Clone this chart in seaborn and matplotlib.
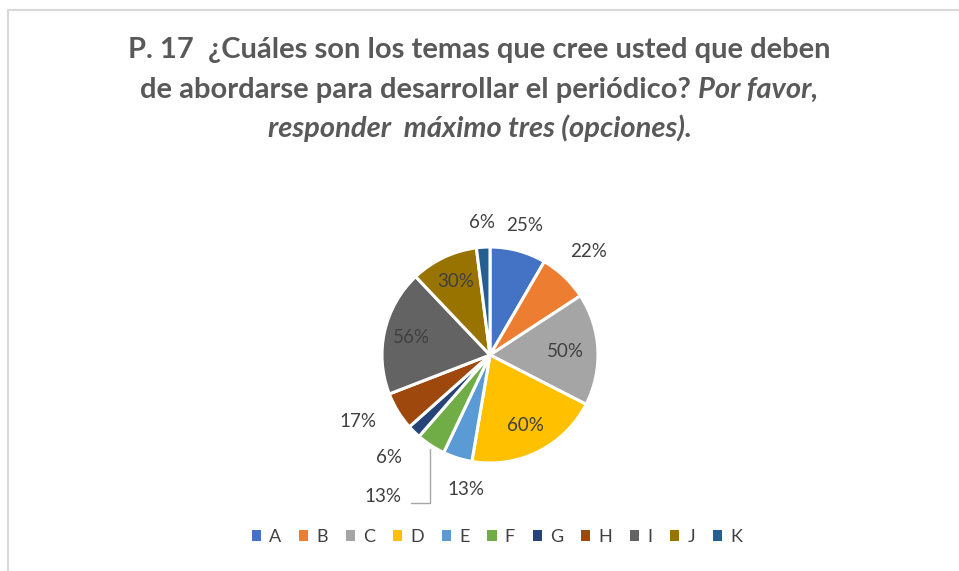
import matplotlib
matplotlib.use("Agg")
import matplotlib.pyplot as plt
import seaborn as sns
import numpy as np
from matplotlib.lines import Line2D
from matplotlib.patches import Patch

categories = ["A", "B", "C", "D", "E", "F", "G", "H", "I", "J", "K"]
values = [25, 22, 50, 60, 13, 13, 6, 17, 56, 30, 6]
labels = ["25%", "22%", "50%", "60%", "13%", "13%", "6%", "17%", "56%", "30%", "6%"]
colors = ["#4472C4", "#ED7D31", "#A5A5A5", "#FFC000", "#5B9BD5", "#70AD47",
          "#264478", "#9E480E", "#636363", "#997300", "#255E91"]
# radial distance / angular nudge of each label
label_r = [1.24, 1.32, 0.70, 0.73, 1.26, None, 1.33, 1.37, 0.75, 0.75, 1.23]
label_dang = [0, 0, 0, 0, 7.5, 0, 0, -4.5, 0, 0, 0]

sns.set_theme(style="white")
palette = sns.color_palette(colors)
plt.rcParams["font.family"] = ["Lato", "DejaVu Sans"]

W, H = 959, 571
fig = plt.figure(figsize=(W / 100, H / 100), dpi=100)
fig.patch.set_facecolor("white")

# frame lines
fig.add_artist(Line2D([8 / W, 1], [1 - 10 / H, 1 - 10 / H], color="#D9D9D9", lw=1.5, transform=fig.transFigure))
fig.add_artist(Line2D([8 / W, 8 / W], [0, 1 - 10 / H], color="#D9D9D9", lw=1.5, transform=fig.transFigure))

cx, cy, R = 490, 355, 108
ax = fig.add_axes([(cx - R) / W, (H - cy - R) / H, 2 * R / W, 2 * R / H])
wedges, _ = ax.pie(values, colors=palette, startangle=90, counterclock=False, radius=1,
                   wedgeprops=dict(edgecolor="white", linewidth=2.2))
ax.set_xlim(-1, 1)
ax.set_ylim(-1, 1)
ax.set_aspect("equal")
ax.axis("off")

total = sum(values)
cum = 0
txtcol = "#404040"
lsize = 13.5
for i, v in enumerate(values):
    mid = cum + v / 2
    cum += v
    ang = np.deg2rad(90 - mid / total * 360 + label_dang[i])
    if label_r[i] is None:
        continue
    r = label_r[i]
    ax.text(r * np.cos(ang), r * np.sin(ang), labels[i], ha="center", va="center",
            fontsize=lsize, color=txtcol, clip_on=False)

# leader label for F
ax.plot([-0.56, -0.56, -0.73], [-0.87, -1.37, -1.37], color="#A6A6A6", lw=1, clip_on=False)
ax.text(-0.99, -1.31, labels[5], ha="center", va="center", fontsize=lsize, color=txtcol, clip_on=False)

# title
tcol = "#595959"
tsize = 21
fig.text(0.5, 1 - 50 / H, "P. 17  ¿Cuáles son los temas que cree usted que deben",
         ha="center", va="center", fontsize=tsize, fontweight="bold", color=tcol)
fig.canvas.draw()
renderer = fig.canvas.get_renderer()
part1 = "de abordarse para desarrollar el periódico? "
part2 = "Por favor,"
t1 = fig.text(0, 0, part1, fontsize=tsize, fontweight="bold", color=tcol)
t2 = fig.text(0, 0, part2, fontsize=tsize, fontweight="bold", style="italic", color=tcol)
w1 = t1.get_window_extent(renderer).width
w2 = t2.get_window_extent(renderer).width
x0 = (W - (w1 + w2)) / 2
y2 = 1 - 90 / H
t1.set_position((x0 / W, y2)); t1.set_va("center")
t2.set_position(((x0 + w1) / W, y2)); t2.set_va("center")
fig.text(0.5, 1 - 128 / H, "responder  máximo tres (opciones).", ha="center", va="center",
         fontsize=tsize, fontweight="bold", style="italic", color=tcol)

# legend
handles = [Patch(facecolor=c, edgecolor="none") for c in palette]
fig.legend(handles, categories, loc="center", bbox_to_anchor=(497 / W, 1 - 537 / H), ncol=11,
           frameon=False, fontsize=13, handlelength=0.5, handleheight=0.5, handletextpad=0.45,
           columnspacing=1.0, labelcolor=txtcol)

fig.savefig("out.png", dpi=100, facecolor="white")
